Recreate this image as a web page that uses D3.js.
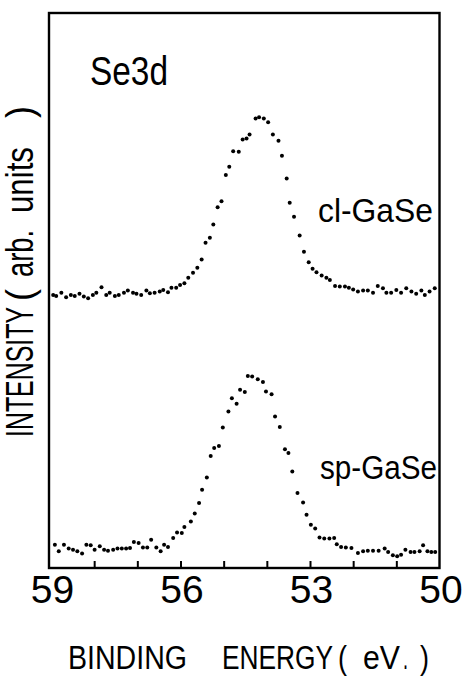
<!DOCTYPE html>
<html>
<head>
<meta charset="utf-8">
<script src="https://cdn.jsdelivr.net/npm/d3@7"></script>
<style>
  body { margin: 0; background: #fff; }
  svg text { font-family: "Liberation Sans", Arial, sans-serif; fill: #000; }
</style>
</head>
<body>
<div id="chart-container"></div>
<script>
// cl-GaSe spectrum (upper curve), binding energy in eV, intensity in arb. units
const clEnergy = [58.95,58.88,58.76,58.65,58.54,58.45,58.34,58.24,58.14,58.03,57.95,57.83,57.72,57.64,57.52,57.43,57.31,57.22,57.10,57.02,
  56.91,56.79,56.71,56.60,56.48,56.40,56.29,56.21,56.10,56.01,55.91,55.82,55.71,55.61,55.51,55.42,55.32,55.24,55.14,55.05,
  54.95,54.87,54.78,54.65,54.56,54.47,54.40,54.26,54.18,54.07,53.97,53.86,53.73,53.65,53.54,53.47,53.37,53.24,53.14,53.03,
  52.94,52.85,52.73,52.62,52.54,52.42,52.31,52.19,52.10,52.00,51.89,51.77,51.66,51.54,51.43,51.31,51.23,51.12,51.00,50.89,
  50.77,50.65,50.54,50.42,50.34,50.23,50.11];
const clIntensity = [49.2,49.0,49.6,48.8,49.2,49.0,49.4,48.9,48.6,49.2,49.6,50.6,49.2,49.6,49.0,49.2,49.6,50.0,49.6,49.4,
  49.2,50.0,49.5,49.6,49.8,50.1,49.7,50.5,50.5,51.0,51.3,52.3,53.2,54.1,55.6,58.6,59.5,61.9,65.0,66.1,
  70.8,72.3,75.1,75.0,77.2,77.4,78.1,81.0,81.2,81.0,80.3,78.1,77.0,74.3,70.2,65.8,63.3,59.9,57.0,55.1,
  53.9,53.3,52.7,52.3,51.9,50.8,50.7,50.7,50.5,50.2,49.8,50.0,50.0,49.6,50.8,50.4,49.6,49.6,50.1,49.6,
  50.4,49.8,49.4,50.0,49.2,49.8,50.4];

// sp-GaSe spectrum (lower curve)
const spEnergy = [58.91,58.82,58.70,58.59,58.49,58.39,58.28,58.18,58.08,57.99,57.87,57.77,57.68,57.56,57.46,57.36,57.26,57.17,57.08,56.97,
  56.87,56.77,56.68,56.56,56.46,56.38,56.29,56.17,56.08,55.97,55.91,55.76,55.67,55.57,55.50,55.39,55.30,55.22,55.11,55.02,
  54.89,54.81,54.70,54.62,54.51,54.44,54.34,54.21,54.09,54.02,53.89,53.81,53.70,53.58,53.50,53.41,53.29,53.16,53.08,52.98,
  52.88,52.78,52.67,52.55,52.44,52.38,52.28,52.17,52.04,51.89,51.77,51.66,51.54,51.41,51.27,51.19,51.08,50.98,50.89,50.79,
  50.67,50.58,50.46,50.38,50.28,50.19,50.10];
const spIntensity = [4.2,3.0,4.2,3.5,3.3,3.0,2.6,4.2,4.1,3.3,3.9,3.3,3.1,3.3,3.5,3.5,3.5,3.6,4.7,4.5,
  3.7,3.7,5.1,3.7,3.0,4.2,3.8,5.4,6.4,6.3,7.4,8.4,9.8,11.7,14.1,16.3,20.2,21.6,22.0,25.3,
  28.2,30.6,29.6,32.1,31.7,34.6,34.5,34.0,33.5,31.8,31.3,27.3,25.4,21.4,20.7,17.4,13.5,11.8,9.6,7.8,
  7.1,5.5,5.3,5.3,5.4,4.3,3.8,3.7,3.6,2.7,3.0,3.1,3.1,3.1,3.5,2.9,2.3,2.1,2.4,3.3,
  2.9,2.9,3.0,4.1,3.0,2.9,2.9];

const minorTicks = [58, 57, 56, 55, 54, 53, 52, 51];
const tickLabels = [59, 56, 53, 50];

const width = 464, height = 676;

const svg = d3.select("#chart-container")
    .append("svg")
    .attr("width", width)
    .attr("height", height);

// X axis: binding energy decreases to the right
const x = d3.scaleLinear()
    .domain([59, 50])
    .range([51, 439.5]);

// Y axis: arbitrary units
const y = d3.scaleLinear()
    .domain([0, 100])
    .range([568, 13]);

// frame
svg.append("rect")
    .attr("x", x(59) - 2)
    .attr("y", y(100))
    .attr("width", x(50) - x(59) + 2)
    .attr("height", y(0) - y(100))
    .attr("fill", "none")
    .attr("stroke", "#000")
    .attr("stroke-width", 2.4);

// inward ticks on the bottom axis
svg.append("g")
    .attr("transform", `translate(0,${y(0)})`)
    .call(d3.axisBottom(x).tickValues(minorTicks).tickSize(-7).tickFormat(""))
    .call(g => g.select(".domain").remove())
    .call(g => g.selectAll(".tick line").attr("stroke-width", 2));

// tick labels
svg.selectAll(".xlabel")
    .data(tickLabels)
    .enter()
    .append("text")
    .attr("class", "xlabel")
    .attr("x", d => x(d) + 1.5)
    .attr("y", 603)
    .attr("text-anchor", "middle")
    .style("font-size", "39px")
    .text(d => d);

// points
function drawSpectrum(energy, intensity) {
  const pts = energy.map((e, i) => ({ e: e, v: intensity[i] }));
  svg.append("g")
      .selectAll("circle")
      .data(pts)
      .enter()
      .append("circle")
      .attr("cx", d => x(d.e))
      .attr("cy", d => y(d.v))
      .attr("r", 2)
      .attr("fill", "#000");
}
drawSpectrum(clEnergy, clIntensity);
drawSpectrum(spEnergy, spIntensity);

// labels inside the frame
svg.append("text")
    .attr("x", 90).attr("y", 85)
    .attr("textLength", 78).attr("lengthAdjust", "spacingAndGlyphs")
    .style("font-size", "40px")
    .text("Se3d");

svg.append("text")
    .attr("x", 318).attr("y", 222)
    .attr("textLength", 115).attr("lengthAdjust", "spacingAndGlyphs")
    .style("font-size", "34px")
    .text("cl-GaSe");

svg.append("text")
    .attr("x", 320).attr("y", 479)
    .attr("textLength", 117).attr("lengthAdjust", "spacingAndGlyphs")
    .style("font-size", "33px")
    .text("sp-GaSe");

// X axis title
const xTitle = [
  { t: "BINDING", x: 68, w: 119 },
  { t: "ENERGY", x: 222, w: 111 },
  { t: "(", x: 338, w: 9 },
  { t: "eV", x: 363, w: 37 },
  { t: ".", x: 403, w: 5 },
  { t: ")", x: 420, w: 9 }
];
svg.selectAll(".xtitle")
    .data(xTitle)
    .enter()
    .append("text")
    .attr("class", "xtitle")
    .attr("x", d => d.x)
    .attr("y", 669)
    .attr("textLength", d => d.w)
    .attr("lengthAdjust", "spacingAndGlyphs")
    .style("font-size", "33px")
    .text(d => d.t);

// Y axis title, rotated
const yTitle = [
  { t: "INTENSITY", y: 437, w: 130 },
  { t: "(", y: 301, w: 12 },
  { t: "arb.", y: 277, w: 47 },
  { t: "units", y: 213, w: 66 },
  { t: ")", y: 118, w: 12 }
];
const yt = svg.append("g")
    .attr("transform", "translate(33,0) rotate(-90)");
yt.selectAll("text")
    .data(yTitle)
    .enter()
    .append("text")
    .attr("x", d => -d.y)
    .attr("y", 0)
    .attr("textLength", d => d.w)
    .attr("lengthAdjust", "spacingAndGlyphs")
    .style("font-size", "38px")
    .text(d => d.t);
</script>
</body>
</html>
